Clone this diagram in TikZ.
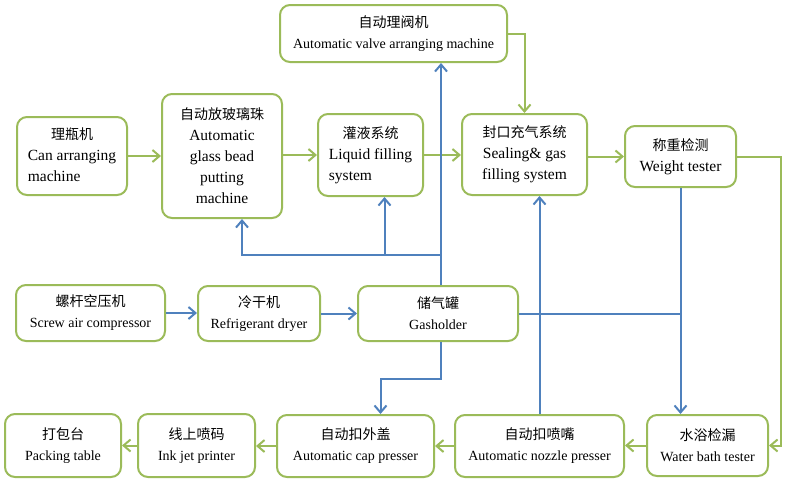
\documentclass[tikz,border=0pt]{standalone}
\usepackage{fontspec}
\setmainfont{Liberation Serif}
\newfontfamily\cjk{Noto Sans CJK SC}
\usetikzlibrary{arrows.meta}
\definecolor{boxgreen}{RGB}{155,187,89}
\definecolor{flowblue}{RGB}{79,129,189}
\newcommand{\zh}[1]{{\cjk\fontsize{14}{21}\selectfont #1}}
\newcommand{\lefttext}[2]{\begin{tabular}{@{}l@{}}\multicolumn{1}{@{}c@{}}{\zh{#1}}\\#2\end{tabular}}

\begin{document}
\begin{tikzpicture}[x=1pt,y=-1pt,
  stage/.style 2 args={draw=boxgreen, line width=2pt, rounded corners=10pt, fill=white,
    align=center, minimum width=#1pt, minimum height=#2pt, inner sep=2pt,
    font=\fontsize{14}{21}\selectfont},
  bigtext/.style={font=\fontsize{15.5}{21}\selectfont},
  gflow/.style={draw=boxgreen, line width=2pt, -{Straight Barb[length=7pt,width=12pt]}},
  bflow/.style={draw=flowblue, line width=2pt, -{Straight Barb[length=7pt,width=12pt]}},
  bline/.style={draw=flowblue, line width=2pt}]
  \useasboundingbox (0,0) rectangle (786,480);

  \node[stage={110}{78}, bigtext] (can) at (72,156) {\lefttext{理瓶机}{Can arranging\\machine}};
  \node[stage={120}{124}, bigtext] (glass) at (222,156) {\zh{自动放玻璃珠}\\Automatic\\glass bead\\putting\\machine};
  \node[stage={105}{82}, bigtext] (liquid) at (370.5,155) {\lefttext{灌液系统}{Liquid filling\\system}};
  \node[stage={227}{57}] (valve) at (393.5,33.5) {\zh{自动理阀机}\\Automatic valve arranging machine};
  \node[stage={125}{81}, bigtext] (seal) at (524.5,154.5) {\zh{封口充气系统}\\Sealing\& gas\\filling system};
  \node[stage={111}{61}, bigtext] (weight) at (680.5,156.5) {\zh{称重检测}\\Weight tester};

  \node[stage={149}{56}] (comp) at (90.5,313) {\zh{螺杆空压机}\\Screw air compressor};
  \node[stage={122}{55}] (dryer) at (259,313.5) {\zh{冷干机}\\Refrigerant dryer};
  \node[stage={160}{55}] (gas) at (438,313.5) {\zh{储气罐}\\Gasholder};

  \node[stage={116}{63}] (pack) at (63,445.5) {\zh{打包台}\\Packing table};
  \node[stage={117}{63}] (ink) at (196.5,445.5) {\zh{线上喷码}\\Ink jet printer};
  \node[stage={157}{62}] (cap) at (355.5,446) {\zh{自动扣外盖}\\Automatic cap presser};
  \node[stage={169}{62}] (nozzle) at (539.5,446) {\zh{自动扣喷嘴}\\Automatic nozzle presser};
  \node[stage={121}{61}] (water) at (707.5,445.5) {\zh{水浴检漏}\\Water bath tester};

  \draw[gflow] (can) -- (glass);
  \draw[gflow] (glass.east |- liquid.west) -- (liquid.west);
  \draw[gflow] (liquid) -- (liquid -| seal.west);
  \draw[gflow] (valve.east) -| (seal.north);
  \draw[gflow] (seal.east |- weight.west) -- (weight.west);
  \draw[gflow] (weight.east) -- ++(44,0) |- (water.east);
  \draw[gflow] (water.west) -- (water.west -| nozzle.east);
  \draw[gflow] (nozzle) -- (cap);
  \draw[gflow] (cap.west) -- (cap.west -| ink.east);
  \draw[gflow] (ink) -- (pack);

  \draw[bflow] (comp) -- (dryer.west |- comp);
  \draw[bflow] (dryer) -- (gas.west |- dryer);
  \coordinate (tap) at ([xshift=3pt]gas.north);
  \coordinate (split) at (tap |- 0,255);
  \draw[bflow] (tap) -- (tap |- valve.south);
  \draw[bflow] (split) -| ([xshift=20pt]glass.south);
  \draw[bflow] (split) -| ([xshift=14pt]liquid.south);
  \draw[bflow] ([xshift=3pt]gas.south) -- ++(0,37) -| ([xshift=25pt]cap.north);
  \draw[bline] (gas.east) -- (gas.east -| weight.south);
  \draw[bflow] (weight.south) -- (weight.south |- water.north);
  \draw[bflow] (nozzle.north) -- (nozzle.north |- seal.south);
\end{tikzpicture}
\end{document}
